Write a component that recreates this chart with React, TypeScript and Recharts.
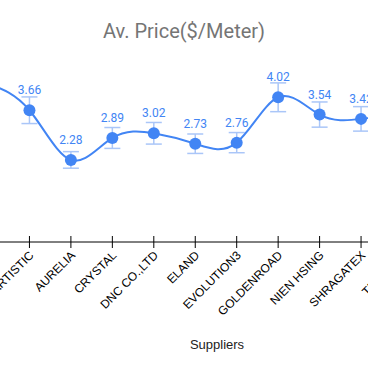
import React from "react";
import { LineChart, Line, XAxis, YAxis, ErrorBar } from "recharts";

// suppliers in the wider chart; the first and last sit outside the visible window
const suppliers = [
  "ALPHATEX",
  "ARTISTIC",
  "AURELIA",
  "CRYSTAL",
  "DNC CO.,LTD",
  "ELAND",
  "EVOLUTION3",
  "GOLDENROAD",
  "NIEN HSING",
  "SHRAGATEX",
  "TEXTRON",
];
const avgPrice = [4.4, 3.66, 2.28, 2.89, 3.02, 2.73, 2.76, 4.02, 3.54, 3.42, 3.6];
const priceError = [0.44, 0.37, 0.23, 0.29, 0.3, 0.27, 0.28, 0.4, 0.35, 0.34, 0.36];

const BLUE = "#4285f4";
const ERR_BLUE = "#aac6f8";

const SupplierTick = (props: any) => {
  const { x, y, payload } = props;
  return (
    <g transform={`translate(${x},${y})`}>
      <line x1={0} y1={-6} x2={0} y2={6} stroke="#000" strokeWidth={1} />
      <text
        x={0}
        y={0}
        transform="translate(5,14) rotate(-45)"
        textAnchor="end"
        fontSize={12}
        fontFamily="Liberation Sans, Arial, sans-serif"
        fill="#000"
      >
        {payload.value}
      </text>
    </g>
  );
};

export default function App() {
  const data = suppliers.map((s, i) => ({
    supplier: s,
    price: avgPrice[i],
    err: priceError[i],
  }));

  return (
    <div
      style={{
        position: "absolute",
        left: 0,
        top: 0,
        width: 368,
        height: 371,
        overflow: "hidden",
        background: "#fff",
      }}
    >
      <div
        style={{
          position: "absolute",
          left: 0,
          top: 20,
          width: 368,
          textAlign: "center",
          fontFamily: "Roboto, sans-serif",
          fontSize: 20,
          lineHeight: "22px",
          color: "#757575",
        }}
      >
        Av. Price($/Meter)
      </div>
      <div style={{ position: "absolute", left: -11.75, top: 0 }}>
        <LineChart
          width={414.5}
          height={371}
          data={data}
          margin={{ top: 62, right: 0, bottom: 69, left: 0 }}
          style={{ overflow: "visible" }}
        >
          <XAxis
            dataKey="supplier"
            interval={0}
            height={60}
            tickLine={false}
            tickSize={0}
            tickMargin={0}
            axisLine={{ stroke: "#000" }}
            tick={<SupplierTick />}
          />
          <YAxis hide domain={[0, 5]} />
          <Line
            type="natural"
            dataKey="price"
            stroke={BLUE}
            strokeWidth={2}
            dot={{ r: 6, fill: BLUE, stroke: "none" }}
            activeDot={false}
            isAnimationActive={false}
            label={{
              position: "top",
              offset: 16,
              fill: BLUE,
              fontSize: 12,
              fontFamily: "Roboto, sans-serif",
            }}
          >
            <ErrorBar dataKey="err" direction="y" width={8} stroke={ERR_BLUE} strokeWidth={1.5} />
          </Line>
        </LineChart>
      </div>
      <div
        style={{
          position: "absolute",
          left: 117,
          width: 200,
          top: 337,
          textAlign: "center",
          fontFamily: "Liberation Sans, Arial, sans-serif",
          fontSize: 13,
          lineHeight: "16px",
          color: "#222",
        }}
      >
        Suppliers
      </div>
    </div>
  );
}
